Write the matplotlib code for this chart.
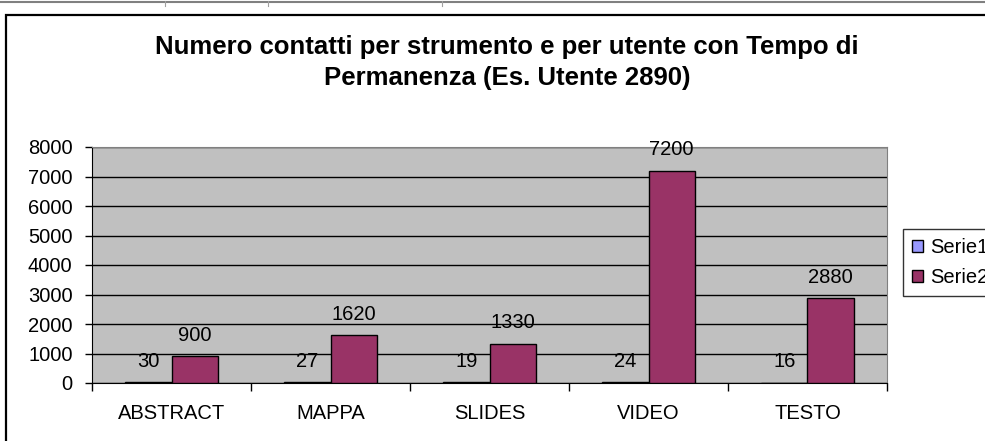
import matplotlib
matplotlib.use('Agg')
import matplotlib.pyplot as plt
from matplotlib.patches import Rectangle
from matplotlib.lines import Line2D
import numpy as np

plt.rcParams['font.family'] = ['Liberation Sans', 'DejaVu Sans']

# dati
categorie = ['ABSTRACT', 'MAPPA', 'SLIDES', 'VIDEO', 'TESTO']
serie1 = [30, 27, 19, 24, 16]
serie2 = [900, 1620, 1330, 7200, 2880]
nomi_serie = ['Serie1', 'Serie2']
colori = ['#9999FF', '#993366']

fig = plt.figure(figsize=(9.85, 4.41), dpi=100)

# cornice del grafico (esce dai bordi come nello screenshot)
fig.patches.append(Rectangle((6 / 985, -0.1), 1.2, 1 - 15 / 441 + 0.1,
                             transform=fig.transFigure, fill=False,
                             edgecolor='black', linewidth=1.6))
# riga grigia in alto (resto della finestra)
fig.lines.append(Line2D([0, 1], [1 - 1.5 / 441] * 2, transform=fig.transFigure,
                        color='#808080', linewidth=1.5))
for xp in [165, 268, 442]:
    fig.lines.append(Line2D([xp / 985] * 2, [1 - 1 / 441, 1 - 6 / 441],
                            transform=fig.transFigure, color='#a0a0a0', linewidth=0.8))

ax = fig.add_axes([92 / 985, 1 - 383 / 441, 795 / 985, 236 / 441])
ax.set_facecolor('#C0C0C0')

x = np.arange(len(categorie))
w = 0.29
b1 = ax.bar(x - w / 2, serie1, w, color=colori[0], edgecolor='black', linewidth=1, label=nomi_serie[0], zorder=3)
b2 = ax.bar(x + w / 2, serie2, w, color=colori[1], edgecolor='black', linewidth=1, label=nomi_serie[1], zorder=3)

for bars, vals in [(b1, serie1), (b2, serie2)]:
    for r, v in zip(bars, vals):
        ax.annotate(str(v), (r.get_x() + r.get_width() / 2, r.get_height()),
                    xytext=(0, 11), textcoords='offset points', ha='center', va='baseline',
                    fontsize=14.5, zorder=4)

ax.set_xlim(-0.5, len(categorie) - 0.5)
ax.set_ylim(0, 8000)
ax.set_yticks(range(0, 8001, 1000))
ax.yaxis.grid(True, color='black', linewidth=1)
ax.set_axisbelow(True)
ax.set_xticks(x)
ax.set_xticklabels(categorie)
ax.set_xticks(np.arange(-0.5, len(categorie)), minor=True)
ax.tick_params(axis='x', which='major', length=0, pad=15, labelsize=14.5)
ax.tick_params(axis='x', which='minor', length=6, width=1, color='black')
ax.tick_params(axis='y', length=5, width=1, labelsize=14.5, pad=9)
for s in ['top', 'right']:
    ax.spines[s].set_color('#808080')
ax.spines['left'].set_color('black')
ax.spines['bottom'].set_color('black')

fig.text(507 / 985, 1 - 47 / 441, 'Numero contatti per strumento e per utente con Tempo di',
         ha='center', va='center', fontsize=18.5, fontweight='bold')
fig.text(507 / 985, 1 - 78 / 441, 'Permanenza (Es. Utente 2890)',
         ha='center', va='center', fontsize=18.5, fontweight='bold')

leg = fig.legend(handles=[b1, b2], labels=nomi_serie, loc='upper left',
                 bbox_to_anchor=(903 / 985, 1 - 229 / 441), fontsize=14.5,
                 frameon=True, fancybox=False, edgecolor='black', handlelength=0.55,
                 handleheight=0.55, handletextpad=0.35, borderpad=0.45, labelspacing=0.55,
                 borderaxespad=0)
leg.get_frame().set_linewidth(1)

fig.savefig('out.png', dpi=100)
